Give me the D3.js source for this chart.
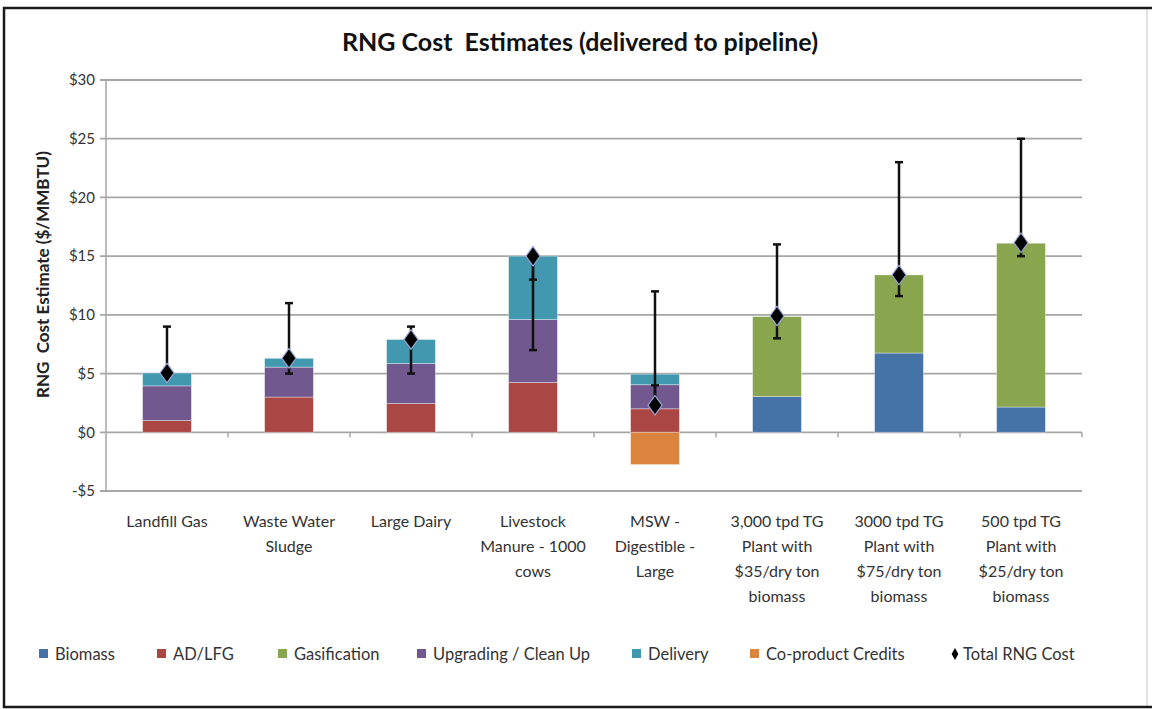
<!DOCTYPE html>
<html>
<head>
<meta charset="utf-8">
<script src="https://cdn.jsdelivr.net/npm/d3@7"></script>
<style>
  body { margin: 0; background: #fff; }
  text { font-family: Lato, "Open Sans", sans-serif; }
</style>
</head>
<body>
<div id="chart"></div>
<script>
"use strict";

///////////////////////////
// data
///////////////////////////
const categories = [
  "Landfill Gas",
  "Waste Water Sludge",
  "Large Dairy",
  "Livestock Manure - 1000 cows",
  "MSW - Digestible - Large",
  "3,000 tpd TG Plant with $35/dry ton biomass",
  "3000 tpd TG Plant with $75/dry ton biomass",
  "500 tpd TG Plant with $25/dry ton biomass",
];
// how each category label wraps
const categoryLines = [
  ["Landfill Gas"],
  ["Waste Water", "Sludge"],
  ["Large Dairy"],
  ["Livestock", "Manure - 1000", "cows"],
  ["MSW -", "Digestible -", "Large"],
  ["3,000 tpd TG", "Plant with", "$35/dry ton", "biomass"],
  ["3000 tpd TG", "Plant with", "$75/dry ton", "biomass"],
  ["500 tpd TG", "Plant with", "$25/dry ton", "biomass"],
];

const seriesNames = ["Biomass", "AD/LFG", "Gasification", "Upgrading / Clean Up", "Delivery", "Co-product Credits"];
const biomass = [0, 0, 0, 0, 0, 3.05, 6.75, 2.15];
const adLfg = [1.0, 3.0, 2.45, 4.25, 2.0, 0, 0, 0];
const gasification = [0, 0, 0, 0, 0, 6.8, 6.65, 13.95];
const upgrading = [2.95, 2.55, 3.4, 5.35, 2.05, 0, 0, 0];
const delivery = [1.1, 0.75, 2.05, 5.4, 0.9, 0, 0, 0];
const coproduct = [0, 0, 0, 0, -2.75, 0, 0, 0];

const totalCost = [5.05, 6.3, 7.9, 15.0, 2.3, 9.9, 13.4, 16.15];
const errHigh = [9, 11, 9, 13, 12, 16, 23, 25];
const errLow = [5, 5, 5, 7, 4, 8, 11.6, 15];

const yTicks = [-5, 0, 5, 10, 15, 20, 25, 30];

const drawChart = () => {
  const width = 1152,
    height = 709;
  const plot = { left: 106, right: 1082, top: 80, bottom: 491 };

  const colors = ["#4572A7", "#AA4643", "#89A54E", "#71588F", "#4198AF", "#DB843D"];
  const color = d3.scaleOrdinal().domain(seriesNames).range(colors);

  const rows = categories.map((c, i) => ({
    cat: c,
    "Biomass": biomass[i],
    "AD/LFG": adLfg[i],
    "Gasification": gasification[i],
    "Upgrading / Clean Up": upgrading[i],
    "Delivery": delivery[i],
    "Co-product Credits": coproduct[i],
  }));

  const stacked = d3.stack().keys(seriesNames).offset(d3.stackOffsetDiverging)(rows);

  const x = d3
    .scaleBand()
    .domain(categories)
    .range([plot.left, plot.right])
    .paddingInner(0.6)
    .paddingOuter(0.3);
  const y = d3.scaleLinear().domain([-5, 30]).range([plot.bottom, plot.top]);
  const cx = (c) => x(c) + x.bandwidth() / 2;

  const svg = d3
    .select("#chart")
    .append("svg")
    .attr("width", width)
    .attr("height", height);

  ///////////////////////////
  // frame
  ///////////////////////////
  svg.append("line").attr("x1", 1147).attr("x2", 1147).attr("y1", 8).attr("y2", 707)
    .attr("stroke", "#d8d8d8").attr("stroke-width", 1.5);
  svg.append("path")
    .attr("d", "M1152,8 H4 V707 H1152")
    .attr("fill", "none")
    .attr("stroke", "#1a1a1a")
    .attr("stroke-width", 2.5);

  ///////////////////////////
  // title
  ///////////////////////////
  svg.append("text")
    .attr("x", 580)
    .attr("y", 51)
    .attr("text-anchor", "middle")
    .attr("font-size", "25px")
    .attr("font-weight", "bold")
    .attr("fill", "#111")
    .attr("xml:space", "preserve")
    .text("RNG Cost  Estimates (delivered to pipeline)");

  ///////////////////////////
  // y axis + grid
  ///////////////////////////
  svg.append("g")
    .selectAll("line")
    .data(yTicks)
    .enter()
    .append("line")
    .attr("x1", plot.left - 6)
    .attr("x2", plot.right)
    .attr("y1", (d) => y(d))
    .attr("y2", (d) => y(d))
    .attr("stroke", "#a6a6a6")
    .attr("stroke-width", 1.8);

  svg.append("line")
    .attr("x1", plot.left).attr("x2", plot.left)
    .attr("y1", plot.top).attr("y2", plot.bottom)
    .attr("stroke", "#a6a6a6").attr("stroke-width", 1.5);

  svg.append("g")
    .selectAll("text")
    .data(yTicks)
    .enter()
    .append("text")
    .attr("x", plot.left - 11)
    .attr("y", (d) => y(d))
    .attr("dy", "0.35em")
    .attr("text-anchor", "end")
    .attr("font-size", "15px")
    .attr("fill", "#333")
    .text((d) => (d < 0 ? "-$" + Math.abs(d) : "$" + d));

  svg.append("text")
    .attr("transform", `translate(49, ${(plot.top + plot.bottom) / 2 - 11}) rotate(-90)`)
    .attr("text-anchor", "middle")
    .attr("font-size", "17px")
    .attr("font-weight", "bold")
    .attr("fill", "#222")
    .attr("xml:space", "preserve")
    .text("RNG  Cost Estimate ($/MMBTU)");

  // category boundary ticks on the zero line
  const bounds = d3.range(categories.length + 1).map((i) => plot.left + i * x.step());
  svg.append("g")
    .selectAll("line")
    .data(bounds.slice(1))
    .enter()
    .append("line")
    .attr("x1", (d) => d)
    .attr("x2", (d) => d)
    .attr("y1", y(0))
    .attr("y2", y(0) + 5)
    .attr("stroke", "#a6a6a6")
    .attr("stroke-width", 1.5);

  ///////////////////////////
  // stacked bars
  ///////////////////////////
  svg.append("g")
    .selectAll("g")
    .data(stacked)
    .enter()
    .append("g")
    .attr("fill", (d) => color(d.key))
    .selectAll("rect")
    .data((d) => d.filter((p) => p[1] - p[0] !== 0))
    .enter()
    .append("rect")
    .attr("x", (d) => x(d.data.cat))
    .attr("width", x.bandwidth())
    .attr("y", (d) => y(Math.max(d[0], d[1])))
    .attr("height", (d) => Math.abs(y(d[0]) - y(d[1])))
    .attr("stroke", "rgba(255,255,255,0.45)")
    .attr("stroke-width", 0.8);

  ///////////////////////////
  // error bars (drawn from total to high and to low)
  ///////////////////////////
  const errG = svg.append("g").attr("stroke", "#111").attr("stroke-width", 2.5);
  categories.forEach((c, i) => {
    const px = cx(c);
    [errHigh[i], errLow[i]].forEach((v) => {
      errG.append("line")
        .attr("x1", px).attr("x2", px)
        .attr("y1", y(totalCost[i])).attr("y2", y(v));
      errG.append("line")
        .attr("x1", px - 4).attr("x2", px + 4)
        .attr("y1", y(v)).attr("y2", y(v));
    });
  });

  ///////////////////////////
  // total markers
  ///////////////////////////
  const diamond = d3.symbol().type(d3.symbolDiamond).size(110);
  svg.append("g")
    .selectAll("path")
    .data(categories)
    .enter()
    .append("path")
    .attr("d", diamond)
    .attr("transform", (d, i) => `translate(${cx(d)}, ${y(totalCost[i])}) scale(1.25, 1)`)
    .attr("fill", "#000")
    .attr("stroke", "#9aa6d6")
    .attr("stroke-width", 1);

  ///////////////////////////
  // category labels
  ///////////////////////////
  svg.append("g")
    .selectAll("text")
    .data(categories)
    .enter()
    .append("text")
    .attr("text-anchor", "middle")
    .attr("font-size", "16px")
    .attr("fill", "#333")
    .selectAll("tspan")
    .data((d, i) => categoryLines[i].map((t) => ({ t: t, c: d })))
    .enter()
    .append("tspan")
    .attr("x", (d) => cx(d.c))
    .attr("y", (d, j) => 527 + j * 25)
    .text((d) => d.t);

  ///////////////////////////
  // legend
  ///////////////////////////
  const legendX = [39, 157, 278, 417, 632, 750, 951];
  const legendItems = seriesNames.concat(["Total RNG Cost"]);
  const leg = svg.append("g")
    .selectAll("g")
    .data(legendItems)
    .enter()
    .append("g")
    .attr("transform", (d, i) => `translate(${legendX[i]}, 654)`);

  leg.filter((d, i) => i < seriesNames.length)
    .append("rect")
    .attr("x", 0)
    .attr("y", -5)
    .attr("width", 9)
    .attr("height", 9)
    .attr("fill", (d) => color(d));

  leg.filter((d) => d === "Total RNG Cost")
    .append("path")
    .attr("d", d3.symbol().type(d3.symbolDiamond).size(40))
    .attr("transform", "translate(4, 0)")
    .attr("fill", "#000");

  leg.append("text")
    .attr("x", (d, i) => (i < seriesNames.length ? 16 : 12))
    .attr("y", 0)
    .attr("dy", "0.35em")
    .attr("font-size", "16.5px")
    .attr("fill", "#333")
    .text((d) => d);
};

drawChart();
</script>
</body>
</html>
